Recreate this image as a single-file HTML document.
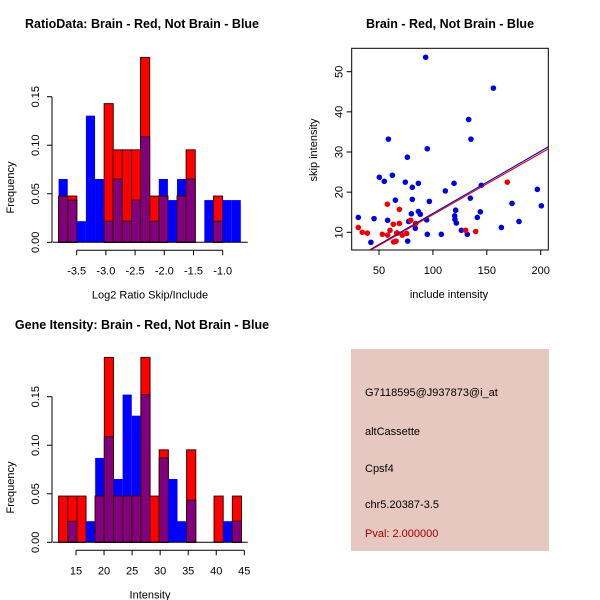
<!DOCTYPE html>
<html><head><meta charset="utf-8"><style>
body{margin:0;background:#fff}
svg{display:block;font-family:"Liberation Sans",sans-serif}
</style></head><body>
<svg id="c" width="600" height="600">
<rect width="600" height="600" fill="#fff"/>
</svg>
<script>
// ---- Data ----
const ratioBlue = [3,2,1,6,3,1,3,1,2,5,1,3,2,3,3,0,2,1,2,2].map(v=>v/46);
const ratioRed  = [1,1,0,0,0,3,2,2,2,4,1,1,0,1,2,0,0,1,0,0].map(v=>v/21);
const ratioStart = -3.81, ratioWidth = 0.156;
const ratioXTicks = [-3.5,-3.0,-2.5,-2.0,-1.5,-1.0];
const freqTicks = [0,0.05,0.10,0.15];
const intBlue = [0,1,0,1,4,5,3,7,6,7,0,4,3,1,2,0,0,0,1,1].map(v=>v/46);
const intRed  = [1,1,1,0,1,4,1,1,1,4,1,2,0,0,2,0,0,1,0,1].map(v=>v/21);
const intStart = 11.9, intWidth = 1.63;
const intXTicks = [15,20,25,30,35,40,45];
const blueX = [30.8,42.5,45.4,50.3,54.9,58.0,58.7,62.4,65.2,74.4,76.3,76.6,77.5,80.0,80.9,80.9,83.7,86.5,86.5,88.3,93.3,94.2,94.8,94.8,96.7,107.8,111.5,119.6,120.2,120.5,121.1,121.7,126.4,131.9,134.7,135.3,133.2,141.2,144.0,144.9,156.1,163.5,173.4,179.9,196.9,200.6];
const blueY = [13.7,7.5,13.4,23.7,22.7,13.0,33.2,24.2,18.0,22.5,28.7,7.8,12.7,14.6,21.2,18.2,11.0,15.2,22.2,14.5,53.6,13.1,30.8,9.5,17.7,9.5,20.3,22.2,14.1,13.2,15.5,12.3,10.5,9.5,18.5,33.2,38.1,13.7,15.1,21.7,45.9,11.2,17.2,12.7,20.7,16.6];
const redX = [30.8,34.5,39.2,53.1,57.7,58.0,60.2,63.3,63.6,65.8,67.0,68.9,68.9,71.6,75.7,79.4,84.0,130.4,139.7,169.0,66.4];
const redY = [11.2,10.0,9.8,9.5,17.0,9.3,10.5,12.0,7.6,7.8,9.8,12.2,15.7,9.3,9.7,13.0,12.2,10.5,10.2,22.5,9.8];
const blueFit = [-0.8,0.155];
const redFit = [-0.9,0.153];
const scXTicks = [50,100,150,200];
const scYTicks = [10,20,30,40,50];

const NS="http://www.w3.org/2000/svg";
const svg=document.getElementById('c');
function mk(tag,attrs,parent,text){const e=document.createElementNS(NS,tag);for(const k in attrs)e.setAttribute(k,attrs[k]);if(text!==undefined)e.textContent=text;(parent||svg).appendChild(e);return e;}
function txt(x,y,s,opts,parent){opts=opts||{};const e=mk('text',{x:x,y:y,'font-size':opts.size||11,'text-anchor':opts.anchor||'middle',fill:opts.fill||'#000','font-weight':opts.bold?'bold':'normal'},parent,s);if(opts.rot)e.setAttribute('transform','rotate(-90 '+x+' '+y+')');return e;}

function hist(g,blue,red,start,w,xs,x0,x1,y0,yTop,xTicks,dec,title,xlabel,titleY){
  const sx=v=>xs[1]+(v-xs[0])*(xs[3]-xs[1])/(xs[2]-xs[0]);
  const sy=v=>y0-(v/0.15)*(y0-yTop);
  for(let i=0;i<blue.length;i++){
    const a=sx(start+i*w), b=sx(start+(i+1)*w);
    if(blue[i]>0){const r=mk('rect',{x:a,y:sy(blue[i]),width:b-a,height:y0-sy(blue[i]),fill:'#0000ff'},g);
      
      }
    if(red[i]>0){const r=mk('rect',{x:a,y:sy(red[i]),width:b-a,height:y0-sy(red[i]),fill:'#ff0000',stroke:'#400000','stroke-width':1},g);
      
      }
    const m=Math.min(blue[i],red[i]);
    if(m>0){const r=mk('rect',{x:a,y:sy(m),width:b-a,height:y0-sy(m),fill:'#800080',stroke:'#400000','stroke-width':1},g);
      
      }
  }
  mk('line',{x1:52,x2:52,y1:sy(0),y2:sy(0.15),stroke:'#000'},g);
  freqTicks.forEach(t=>{mk('line',{x1:47,x2:52,y1:sy(t),y2:sy(t),stroke:'#000'},g);
    txt(39,sy(t),t.toFixed(2),{rot:true},g);});
  const ax=y0+8;
  mk('line',{x1:sx(xTicks[0]),x2:sx(xTicks[xTicks.length-1]),y1:ax,y2:ax,stroke:'#000'},g);
  xTicks.forEach(t=>{mk('line',{x1:sx(t),x2:sx(t),y1:ax,y2:ax+5,stroke:'#000'},g);
    txt(sx(t),ax+24,t.toFixed(dec),{},g);});
  mk('line',{x1:x0-6,x2:x1+6,y1:y0,y2:y0,stroke:'#000'},g);
  txt(150,y0+56,xlabel,{},g);
  txt(14,(y0+yTop)/2+18,'Frequency',{rot:true},g);
  txt(142,titleY,title,{bold:true,size:12.5},g);
}
const g1=mk('g',{});


hist(g1,ratioBlue,ratioRed,ratioStart,ratioWidth,[-3.5,76.7,-1.0,222.7],58.7,241.7,242.3,96.7,ratioXTicks,1,'RatioData: Brain - Red, Not Brain - Blue','Log2 Ratio Skip/Include',28);
const g3=mk('g',{});


hist(g3,intBlue,intRed,intStart,intWidth,[15,76,45,244.3],58.7,241.7,542.3,396.7,intXTicks,0,'Gene Itensity: Brain - Red, Not Brain - Blue','Intensity',329);

const g2=mk('g',{});


const L=351.7,R=548.3,T=48.3,B=250;
const px=v=>379+(v-50)*(540.7-379)/150;
const py=v=>232.3-(v-10)*(232.3-71.7)/40;
mk('clipPath',{id:'clp'},g2);
mk('rect',{x:L,y:T,width:R-L,height:B-T},document.getElementById('clp'));
mk('rect',{x:L,y:T,width:R-L,height:B-T,fill:'none',stroke:'#000'},g2);
scXTicks.forEach(t=>{mk('line',{x1:px(t),x2:px(t),y1:B,y2:B+5,stroke:'#000'},g2);txt(px(t),B+24,String(t),{},g2);});
scYTicks.forEach(t=>{mk('line',{x1:L-5,x2:L,y1:py(t),y2:py(t),stroke:'#000'},g2);txt(L-9,py(t),String(t),{rot:true},g2);});
txt(449,298,'include intensity',{},g2);
txt(317,150,'skip intensity',{rot:true},g2);
txt(450,28,'Brain - Red, Not Brain - Blue',{bold:true,size:12.5},g2);
function pts(xs,ys,col,nm){xs.forEach((x,i)=>{const c=mk('circle',{cx:px(x),cy:py(ys[i]),r:2.8,fill:col},g2);
  
  });}
pts(blueX,blueY,'#0000dd','blue');
pts(redX,redY,'#ee0000','red');
function fit(f,col,nm){
  const l=mk('line',{x1:px(0),y1:py(f[0]),x2:px(260),y2:py(f[0]+260*f[1]),stroke:col,'stroke-width':1.1,'clip-path':'url(#clp)'},g2);
  
  }
fit(blueFit,'#0000cc','blue');
fit(redFit,'#dd0000','red');

const g4=mk('g',{});


mk('rect',{x:351,y:349,width:198,height:202,fill:'#e6c8c0'},g4);
[['G7118595@J937873@i_at',396,'#000','probe-id'],['altCassette',435,'#000','event-type'],['Cpsf4',472,'#000','gene-name'],['chr5.20387-3.5',508,'#000','location'],['Pval: 2.000000',537,'#a00000','p-value']].forEach(a=>{
  const t=txt(365,a[1],a[0],{anchor:'start',fill:a[2]},g4);
  
});
</script>
</body></html>
